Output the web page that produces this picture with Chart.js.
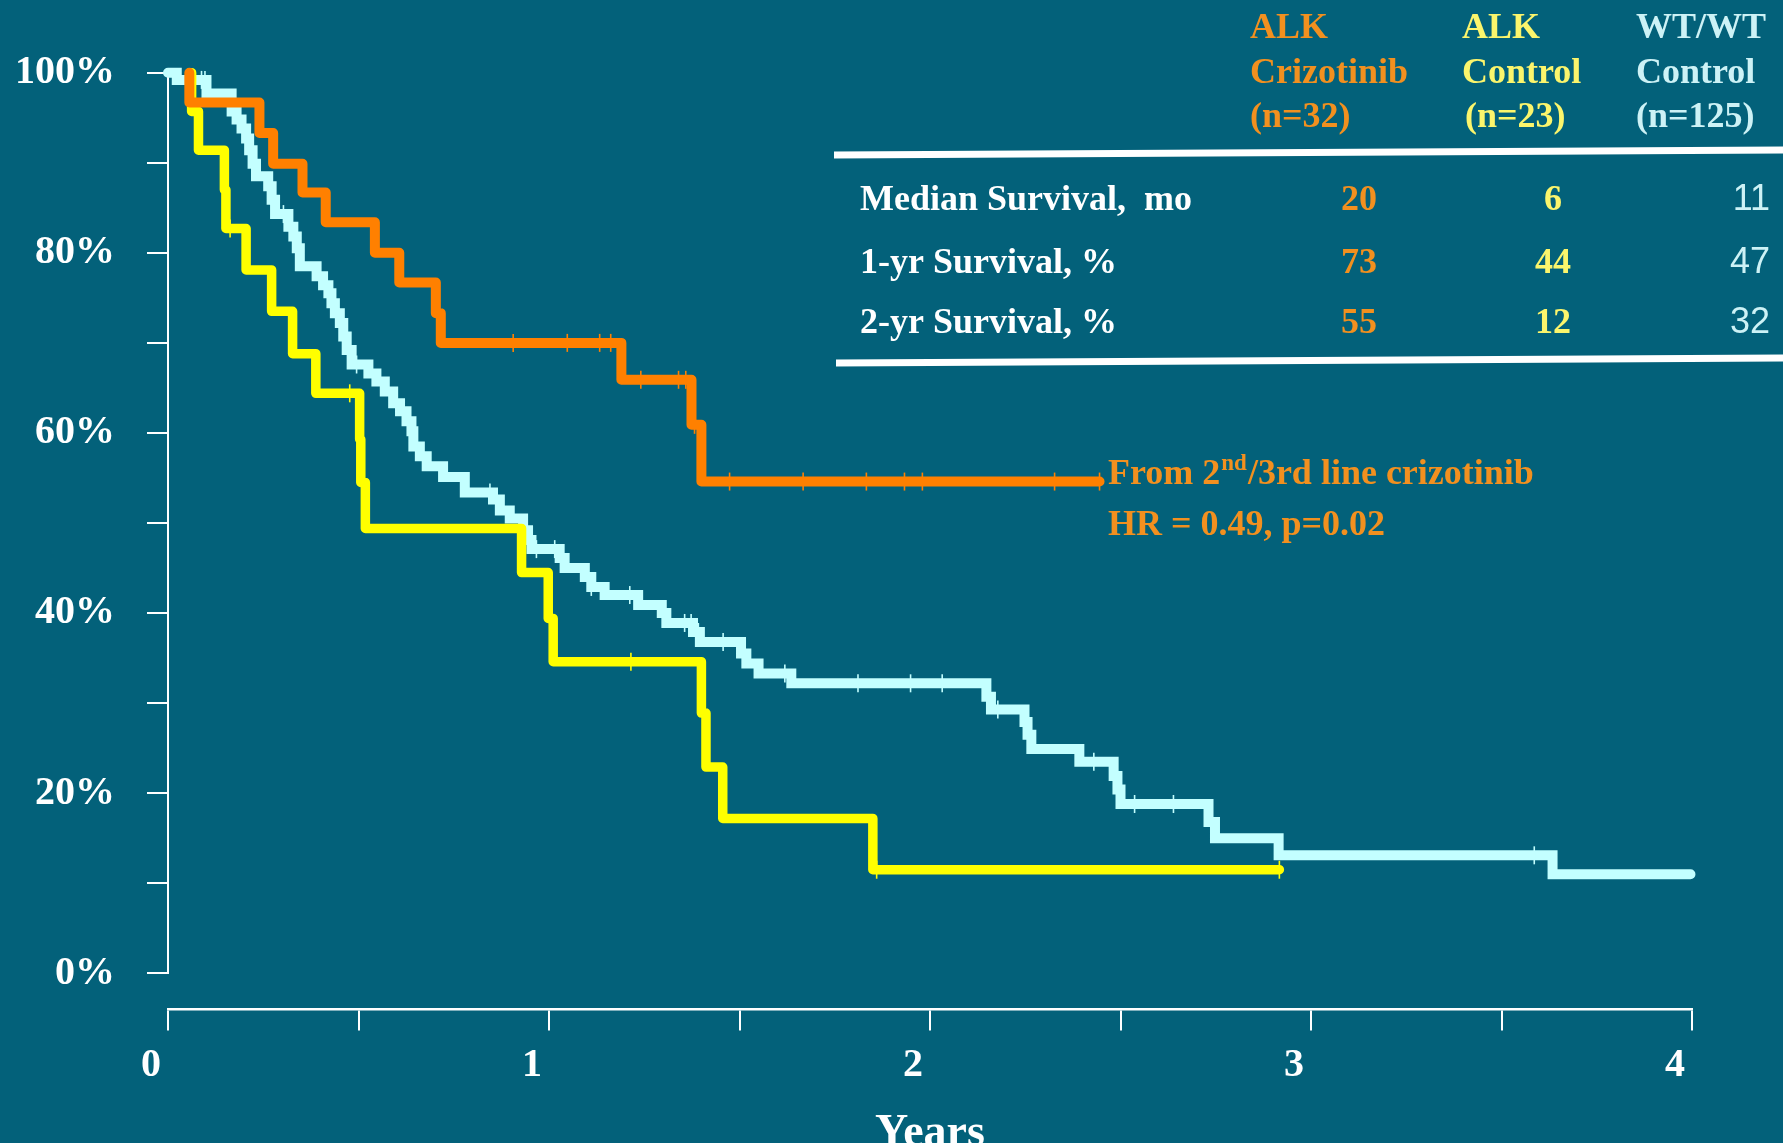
<!DOCTYPE html>
<html>
<head>
<meta charset="utf-8">
<script src="https://cdn.jsdelivr.net/npm/chart.js@4.4.1/dist/chart.umd.min.js"></script>
<style>
  html, body { margin: 0; padding: 0; background: #03617a; overflow: hidden; }
  #wrap { position: relative; width: 1783px; height: 1143px; }
  canvas { display: block; }
</style>
</head>
<body>
<div id="wrap"><canvas id="km" width="1783" height="1143"></canvas></div>
<script>
// Kaplan–Meier overall survival. Each pair is (time in years, survival % after the step).
const crizSteps = [0.056, 0.240, 0.276, 0.353, 0.414, 0.543, 0.607, 0.703, 0.716, 1.190, 1.374, 1.400];
const crizLevels = [96.7, 93.3, 89.9, 86.7, 83.4, 80.0, 76.7, 73.3, 70.0, 65.9, 60.9, 54.6];
const crizCensor = [0.906, 1.048, 1.133, 1.162, 1.241, 1.340, 1.359, 1.382, 1.474, 1.667, 1.833, 1.933, 1.980, 2.327, 2.445];

const alkCtlTimes = [0.062, 0.080, 0.148, 0.152, 0.205, 0.272, 0.327, 0.388, 0.503, 0.506, 0.518, 0.928, 0.998, 1.011, 1.400, 1.412, 1.456, 1.850, 2.917];
const alkCtlSurv  = [95.7,  91.4,  87.0,  82.7,  78.1,  73.5,  68.8,  64.4,  59.3,  54.5,  49.4,  44.5,  39.4,  34.6,  28.9,  22.9,  17.2,  11.5,  11.5];
const alkCtlCensor = [0.163, 0.477, 1.215, 1.860, 2.917];

const wtTimes = [0, 0.023, 0.101, 0.167, 0.180, 0.193, 0.205, 0.213, 0.222, 0.231, 0.263, 0.272, 0.281, 0.316, 0.329, 0.338,
  0.346, 0.390, 0.407, 0.421, 0.429, 0.438, 0.451, 0.460, 0.469, 0.482, 0.526, 0.547, 0.569, 0.591, 0.609, 0.626, 0.639,
  0.644, 0.661, 0.679, 0.722, 0.779, 0.853, 0.871, 0.897, 0.932, 0.945, 0.954, 1.028, 1.041, 1.094, 1.111, 1.146, 1.234,
  1.296, 1.308, 1.378, 1.396, 1.504, 1.518, 1.550, 1.636, 2.148, 2.160, 2.248, 2.256, 2.266, 2.392, 2.482, 2.492, 2.500,
  2.731, 2.748, 2.915, 3.634, 3.996];
const wtSurv = [100, 99.2, 97.7, 95.7, 94.8, 93.8, 92.7, 91.4, 89.9, 88.5, 87.4, 85.9, 84.3, 82.9, 81.8, 80.5,
  78.5, 77.4, 76.4, 75.5, 74.4, 73.3, 72.2, 70.7, 69.2, 67.6, 66.6, 65.7, 64.6, 63.3, 62.4, 61.3, 60.2,
  58.5, 57.4, 56.3, 55.1, 53.4, 52.6, 51.4, 50.5, 49.2, 48.1, 47.1, 46.1, 45.0, 44.0, 42.9, 42.0, 40.9,
  40.0, 38.9, 37.9, 36.8, 35.5, 34.4, 33.3, 32.2, 30.7, 29.3, 27.9, 26.5, 24.9, 23.5, 21.9, 20.4, 18.8,
  16.8, 15.0, 13.1, 11.0, 11.0];
const wtCensor = [0.088, 0.097, 0.189, 0.303, 0.495, 0.652, 0.845, 0.862, 0.967, 1.015, 1.111, 1.212, 1.356, 1.373,
  1.392, 1.457, 1.619, 1.811, 1.949, 2.032, 2.178, 2.430, 2.537, 2.639, 3.586];

// Axis ticks
const xTickValues = [0, 1, 2, 3, 4];
const yTickValues = [0, 20, 40, 60, 80, 100];

// Summary table
const groupNames = [["ALK", "Crizotinib", "(n=32)"], ["ALK", "Control", "(n=23)"], ["WT/WT", "Control", "(n=125)"]];
const rowLabels = ["Median Survival,  mo", "1-yr Survival, %", "2-yr Survival, %"];
const medianSurvival = ["20", "6", "11"];
const oneYearSurvival = ["73", "44", "47"];
const twoYearSurvival = ["55", "12", "32"];
const noteLines = ["From 2", "nd", "/3rd line crizotinib", "HR = 0.49, p=0.02"];

const ORANGE = '#ff8000', YELLOW = '#ffff00', CYAN = '#c3ffff';
const T_ORANGE = '#f2901f', T_YELLOW = '#fbf56c', T_CYAN = '#cdf2f6';

// orange and yellow curves start at 100% at their first event
const crizPts = [{x: crizSteps[0], y: 100}].concat(crizSteps.map((t, i) => ({x: t, y: crizLevels[i]})));
crizPts.push({x: crizCensor[crizCensor.length - 1], y: crizLevels[crizLevels.length - 1]});
const alkPts = [{x: alkCtlTimes[0], y: 100}].concat(alkCtlTimes.map((t, i) => ({x: t, y: alkCtlSurv[i]})));
const wtPts = wtTimes.map((t, i) => ({x: t, y: wtSurv[i]}));

function levelAt(pts, t) {
  let v = pts[0].y;
  for (const p of pts) { if (p.x <= t + 1e-9) v = p.y; }
  return v;
}
const censorPts = (pts, times) => times.map(t => ({x: t, y: levelAt(pts, t)}));

const curve = (label, data, color, width, join, order) => ({
  label, data, borderColor: color, backgroundColor: color, borderWidth: width,
  stepped: 'before', pointRadius: 0, borderJoinStyle: join, borderCapStyle: 'round',
  clip: false, order, tension: 0
});
const ticks = (label, data, color, order) => ({
  label, data, showLine: false, pointStyle: 'line', rotation: 90, pointRadius: 9,
  borderColor: color, backgroundColor: color, pointBorderWidth: 1.6, pointHoverRadius: 9,
  clip: false, order
});

function serif(size, weight) { return (weight || 'bold') + ' ' + size + 'px "Liberation Serif", "Times New Roman", serif'; }
function sans(size) { return 'normal ' + size + 'px "Liberation Sans", Arial, sans-serif'; }

const tablePlugin = {
  id: 'summaryTable',
  afterDraw(chart) {
    const ctx = chart.ctx;
    ctx.save();
    ctx.textBaseline = 'alphabetic';
    const put = (s, x, y, font, color, align) => {
      ctx.font = font; ctx.fillStyle = color; ctx.textAlign = align || 'left';
      ctx.fillText(s, x, y);
    };
    // column headers
    const colX = [1250, 1462, 1636];
    const colColors = [T_ORANGE, T_YELLOW, T_CYAN];
    const headBase = [38, 83, 127];
    groupNames.forEach((g, c) => {
      g.forEach((s, r) => put(s, colX[c] + (r === 2 && c === 1 ? 3 : 0), headBase[r], serif(36), colColors[c]));
    });
    // rules
    ctx.strokeStyle = '#ffffff'; ctx.lineWidth = 7; ctx.lineCap = 'butt';
    ctx.beginPath(); ctx.moveTo(834, 155); ctx.lineTo(1783, 150); ctx.stroke();
    ctx.beginPath(); ctx.moveTo(836, 363); ctx.lineTo(1783, 358); ctx.stroke();
    // rows
    const rowBase = [210, 273, 333];
    const rows = [medianSurvival, oneYearSurvival, twoYearSurvival];
    rowLabels.forEach((s, r) => put(s, 860, rowBase[r], serif(36), '#ffffff'));
    rows.forEach((vals, r) => {
      put(vals[0], 1377, rowBase[r], serif(36), T_ORANGE, 'right');
      put(vals[1], 1553, rowBase[r], serif(36), T_YELLOW, 'center');
      put(vals[2], 1770, rowBase[r], sans(36), T_CYAN, 'right');
    });
    // hazard ratio note
    let x = 1108;
    put(noteLines[0], x, 484, serif(36), T_ORANGE);
    x += ctx.measureText(noteLines[0]).width;
    put(noteLines[1], x + 1, 470, serif(23), T_ORANGE);
    x += ctx.measureText(noteLines[1]).width + 2;
    put(noteLines[2], x, 484, serif(36), T_ORANGE);
    put(noteLines[3], 1108, 535, serif(36), T_ORANGE);
    ctx.restore();
  }
};

new Chart(document.getElementById('km'), {
  type: 'line',
  data: {
    datasets: [
      ticks('ALK crizotinib censored', censorPts(crizPts, crizCensor), ORANGE, 0),
      curve('ALK Crizotinib (n=32)', crizPts, ORANGE, 10, 'round', 1),
      ticks('ALK control censored', censorPts(alkPts, alkCtlCensor), YELLOW, 2),
      curve('ALK Control (n=23)', alkPts, YELLOW, 9.5, 'round', 3),
      ticks('WT/WT control censored', censorPts(wtPts, wtCensor), CYAN, 4),
      curve('WT/WT Control (n=125)', wtPts, CYAN, 10, 'miter', 5)
    ]
  },
  options: {
    responsive: false,
    devicePixelRatio: 1,
    animation: false,
    layout: { padding: { left: 0, top: 72.7, right: 91, bottom: 169.7 } },
    plugins: { legend: { display: false }, tooltip: { enabled: false }, title: { display: false } },
    scales: {
      x: {
        type: 'linear', min: 0, max: 4,
        position: { y: -4 },
        afterBuildTicks: (s) => { s.ticks = [0, 0.5, 1, 1.5, 2, 2.5, 3, 3.5, 4].map(v => ({value: v})); },
        grid: { drawOnChartArea: false, drawTicks: true, tickLength: 20, color: '#ffffff', lineWidth: 2 },
        border: { display: true, color: '#ffffff', width: 2.5 },
        ticks: {
          autoSkip: false, maxRotation: 0, padding: 12, labelOffset: -17,
          color: '#ffffff', font: { family: '"Liberation Serif", serif', size: 40, weight: 'bold' },
          callback: (v) => xTickValues.includes(v) ? String(v) : ''
        },
        title: {
          display: true, text: 'Years', color: '#ffffff',
          font: { family: '"Liberation Serif", serif', size: 46, weight: 'bold' },
          padding: { top: 5, bottom: 0 }
        }
      },
      y: {
        type: 'linear', min: 0, max: 100, position: 'left',
        afterFit: (s) => { s.width = 168; },
        afterBuildTicks: (s) => { s.ticks = [0, 10, 20, 30, 40, 50, 60, 70, 80, 90, 100].map(v => ({value: v})); },
        grid: { drawOnChartArea: false, drawTicks: true, tickLength: 21, color: '#ffffff', lineWidth: 2 },
        border: { display: true, color: '#ffffff', width: 2 },
        ticks: {
          autoSkip: false, padding: 32, color: '#ffffff',
          font: { family: '"Liberation Serif", serif', size: 40, weight: 'bold' },
          callback: (v) => yTickValues.includes(v) ? v + '%' : ''
        }
      }
    }
  },
  plugins: [tablePlugin]
});
</script>
</body>
</html>
